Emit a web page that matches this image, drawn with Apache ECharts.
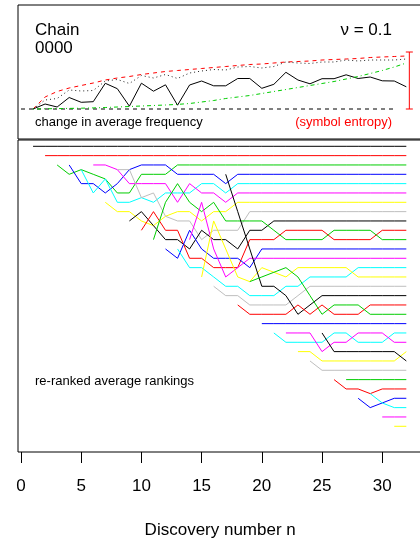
<!DOCTYPE html>
<html><head><meta charset="utf-8">
<script src="https://cdn.jsdelivr.net/npm/echarts@6/dist/echarts.min.js"></script>
<style>html,body{margin:0;padding:0;background:#fff;}#c{width:420px;height:539px;}</style>
</head><body><div id="c"></div>
<script>
// ---------- data ----------
const discoveryN = [1,2,3,4,5,6,7,8,9,10,11,12,13,14,15,16,17,18,19,20,21,22,23,24,25,26,27,28,29,30,31,32];
// top panel (heights above the zero line, arbitrary units)
const avgFreqChange = [0,5,2,11.5,6.7,7.3,25.7,20.3,2.8,25.8,17.8,24.2,3.8,24,28,23.2,23.2,30.5,30.5,20.7,24.7,36.7,29,25.2,30.3,30.3,34.2,30.5,32,28.2,28,22.2];
const symbolEntropy = [0,12,17.5,21,23.5,26,29,31,32.5,34.5,36,37.5,38.5,39.5,40.5,41.5,42.5,43.5,44.5,45,46,47,47.5,48,49,49.5,50,50.5,51.5,52,52.5,53];
const dottedCurve = [0,9,10.5,19,18,18.5,28,29.5,25.5,33.5,31,34.5,30.5,36,38,39.5,39,42,42.5,41,42.5,47,46,45.5,47,47,49,48,49,49,49,50];
const dashDotCurve = [0,0.2,0.4,0.6,0.8,1.1,1.5,2,2.5,3,3.5,4,4.6,5.5,7,8.5,10.5,12,13.5,15.5,17.5,19.5,21.5,23.5,25.5,27.5,30,32.5,35.5,38.5,42,46];
const zeroLine = [[0,0],[31,0]];
const entropyBar = [32.25, 0, 57];
const xTicks = [0,5,10,15,20,25,30];

// bottom panel: rank of symbol k from discovery n = k to n = 32
const rankS1  = [1,1,1,1,1,1,1,1,1,1,1,1,1,1,1,1,1,1,1,1,1,1,1,1,1,1,1,1,1,1,1,1];
const rankS2  = [2,2,2,2,2,2,2,2,2,2,2,2,2,2,2,2,2,2,2,2,2,2,2,2,2,2,2,2,2,2,2];
const rankS3  = [3,4,3.5,4,4.5,6,6,4,4,4,3,3,3,3,3,3,3,3,3,3,3,3,3,3,3,3,3,3,3,3];
const rankS4  = [3,5,5,6,5,3.5,3,3,3,4,4,4,4,5,4,4,4,4,4,4,4,4,4,4,4,4,4,4,4];
const rankS5  = [3.5,6,4.5,7,7,6.5,7,6,6,6,5,5,6,5,5,5,5,5,5,5,5,5,5,5,5,5,5,5];
const rankS6  = [3,3,3.5,5,5,5,5,7,5,6,6,7,6,6,6,6,6,6,6,6,6,6,6,6,6,6,6];
const rankS7  = [7,8,8,9,9.5,8.5,8,8,9,8,8,7,7,7,7,7,7,7,7,7,7,7,7,7,7,7];
const rankS8  = [3.5,3.5,6.5,6,8.5,9,9,11,10,10,10,8,8,8,8,8,8,8,8,8,8,8,8,8,8];
const rankS9  = [9,8,9.5,11,11,12,10,11,11,12,10,10,9,9,9,9,9,9,9,9,9,9,9,9];
const rankS10 = [10,8,10,10,13,13,14,14,14,11,11,11,10,10,10,10,11,11,11,11,10,10,10];
const rankS11 = [11,7,5,7,8,7,9,9,9,9,10,11,11,11,11,10,10,10,10,11,11,11];
const rankS12 = [12,13,10,12,13,13,13,14,12,12,12,12,12,12,12,12,12,12,12,12,12];
const rankS13 = [12,14,14,15,16,16,17,17,17,16,16,15,15,15,15,14,14,14,14,14];
const rankS14 = [11,7,12,15,14,13,13,13,13,13,13,13,13,13,13,13,13,13,13];
const rankS15 = [15,9,12,15,15.5,14,14.5,15,14,14,14,14,14,15,15,15,15,15];
const rankS16 = [16,17,17,18,18,18,18,17,16,16,16,16,16,16,16,16,16];
const rankS17 = [4,8,12,16,16,17,19,18,17,17,17,17,17,17,17,17];
const rankS18 = [18,19,19,19,19,18,19,18,19,19,19,18,18,18,18];
const rankS19 = [15.5,15,14.5,14,15,17,19,18,18,18,19,19,19,19];
const rankS20 = [20,20,20,20,20,20,20,20,20,20,20,20,20];
const rankS21 = [21,22,22,22,22,21,21,22,22,22,21,21];
const rankS22 = [21,21,21,23,22,22,21,21,21,22,22];
const rankS23 = [23,23,24,24,24,24,24,24,24,23];
const rankS24 = [24,25,25,25,25,25,25,25,25];
const rankS25 = [21,23,23,23,23,23,23,24];
const rankS26 = [26,27,27,27.5,27,27,27];
const rankS27 = [26,26,26,26,26,26];
const rankS28 = [28,29,28.5,28,28];
const rankS29 = [27.5,28.5,29,29];
const rankS30 = [30,30,30];
const rankS31 = [31,31];
const rankS32 = [32];
const allRanks = [rankS1,rankS2,rankS3,rankS4,rankS5,rankS6,rankS7,rankS8,rankS9,rankS10,rankS11,rankS12,rankS13,rankS14,rankS15,rankS16,
  rankS17,rankS18,rankS19,rankS20,rankS21,rankS22,rankS23,rankS24,rankS25,rankS26,rankS27,rankS28,rankS29,rankS30,rankS31,rankS32];

// ---------- styling ----------
const palette = ['#000000','#FF0000','#00CD00','#0000FF','#00FFFF','#FF00FF','#FFFF00','#BEBEBE'];
const FONT = "'Liberation Sans', Arial, Helvetica, sans-serif";

const pairs = arr => arr.map((v, i) => [discoveryN[i], v]);

const series = [
  {type:'line', xAxisIndex:0, yAxisIndex:0, data: zeroLine, symbol:'none', lineStyle:{color:'#000', width:1, type:[4,4]}},
  {type:'line', xAxisIndex:0, yAxisIndex:0, data: pairs(symbolEntropy), symbol:'none', lineStyle:{color:'#FF0000', width:1, type:[4,4]}},
  {type:'line', xAxisIndex:0, yAxisIndex:0, data: pairs(dottedCurve), symbol:'none', lineStyle:{color:'#222', width:1, type:[1,3]}},
  {type:'line', xAxisIndex:0, yAxisIndex:0, data: pairs(avgFreqChange), symbol:'none', lineStyle:{color:'#000', width:1}},
  {type:'line', xAxisIndex:0, yAxisIndex:0, data: pairs(dashDotCurve), symbol:'none', lineStyle:{color:'#00CD00', width:1, type:[1,3,4,3]}},
  {type:'custom', xAxisIndex:0, yAxisIndex:0, data:[entropyBar],
    renderItem: function(params, api){
      const lo = api.coord([api.value(0), api.value(1)]);
      const hi = api.coord([api.value(0), api.value(2)]);
      const st = {stroke:'#FF0000', lineWidth:1};
      return {type:'group', children:[
        {type:'line', shape:{x1:lo[0], y1:lo[1], x2:hi[0], y2:hi[1]}, style:st},
        {type:'line', shape:{x1:lo[0]-3.5, y1:lo[1], x2:lo[0]+3.5, y2:lo[1]}, style:st},
        {type:'line', shape:{x1:hi[0]-3.5, y1:hi[1], x2:hi[0]+3.5, y2:hi[1]}, style:st}
      ]};
    }}
];
allRanks.forEach((arr, k) => {
  series.push({
    type:'line', xAxisIndex:1, yAxisIndex:1, symbol:'none', showSymbol:false,
    data: arr.map((r, i) => [k + 1 + i, r]),
    lineStyle:{color: palette[k % 8], width:1}
  });
});
series.forEach(s => { s.silent = true; s.animation = false; s.emphasis = {disabled:true}; });

const txt = (x, y, text, size, color, align) => ({
  type:'text', x:x, y:y, silent:true,
  style:{text:text, fill:color || '#000', font: size + 'px ' + FONT,
         textAlign: align || 'left', textVerticalAlign:'middle', align: align || 'left', verticalAlign:'middle'}
});

const option = {
  animation:false,
  backgroundColor:'#fff',
  grid:[
    {left:18, top:5, width:412.4, height:134, show:true, borderColor:'#000', borderWidth:1, backgroundColor:'transparent', outerBoundsMode:'none', containLabel:false},
    {left:18, top:140, width:412.4, height:312, show:true, borderColor:'#000', borderWidth:1, backgroundColor:'transparent', outerBoundsMode:'none', containLabel:false}
  ],
  xAxis:[
    {gridIndex:0, type:'value', min:-0.25, max:34, show:false},
    {gridIndex:1, type:'value', min:-0.25, max:34,
      axisLine:{show:false}, splitLine:{show:false},
      axisTick:{show:true, length:11, lineStyle:{color:'#000', width:1}, customValues:xTicks},
      axisLabel:{customValues:xTicks, fontSize:17, color:'#000', fontFamily:FONT, margin:26},
      name:'Discovery number n', nameLocation:'middle', nameGap:70,
      nameTextStyle:{fontSize:17, color:'#000', fontFamily:FONT, padding:[0,8,0,0]}}
  ],
  yAxis:[
    {gridIndex:0, type:'value', min:-30, max:104, show:false},
    {gridIndex:1, type:'value', min:0.325, max:33.755, inverse:true, show:false}
  ],
  graphic:[
    txt(35, 30, 'Chain', 17),
    txt(35, 48, '0000', 17),
    txt(392, 30, 'ν = 0.1', 17, '#000', 'right'),
    txt(35, 122, 'change in average frequency', 13),
    txt(392, 122, '(symbol entropy)', 13, '#FF0000', 'right'),
    txt(35, 381, 're-ranked average rankings', 13)
  ],
  series: series
};
echarts.init(document.getElementById('c'), null, {renderer:'canvas'}).setOption(option);
</script></body></html>
